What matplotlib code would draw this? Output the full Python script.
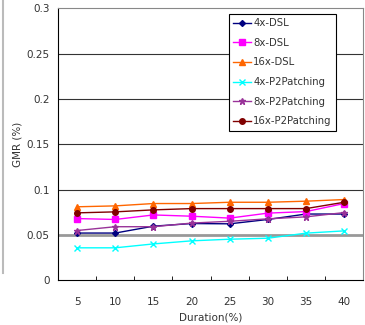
import matplotlib
matplotlib.use('Agg')
import matplotlib.pyplot as plt
from matplotlib.lines import Line2D

durations = ['5', '10', '15', '20', '25', '30', '35', '40']

dsl_4x = [0.052, 0.052, 0.0596, 0.0625, 0.0622, 0.067, 0.073, 0.073]
dsl_8x = [0.068, 0.067, 0.072, 0.0706, 0.0685, 0.074, 0.0757, 0.0846]
dsl_16x = [0.081, 0.082, 0.0846, 0.0846, 0.086, 0.086, 0.0872, 0.089]
p2p_4x = [0.0357, 0.0357, 0.040, 0.0434, 0.0452, 0.0463, 0.0519, 0.0544]
p2p_8x = [0.0548, 0.059, 0.059, 0.063, 0.065, 0.0677, 0.0699, 0.0746]
p2p_16x = [0.0743, 0.0754, 0.0776, 0.079, 0.079, 0.079, 0.079, 0.086]

series = [
    ('4x-DSL', dsl_4x, '#000080', 'D', 3),
    ('8x-DSL', dsl_8x, '#FF00FF', 's', 4),
    ('16x-DSL', dsl_16x, '#FF6600', '^', 4.5),
    ('4x-P2Patching', p2p_4x, '#00FFFF', 'x', 4),
    ('8x-P2Patching', p2p_8x, '#993399', '*', 5),
    ('16x-P2Patching', p2p_16x, '#800000', 'o', 4),
]

plt.rcParams['font.family'] = 'DejaVu Sans'
fig = plt.figure(figsize=(3.65, 3.25), dpi=100)
ax = fig.add_axes([0.159, 0.138, 0.836, 0.836])

x = list(range(len(durations)))
for label, vals, color, marker, ms in series:
    ax.plot(x, vals, color=color, marker=marker, markersize=ms, linewidth=1,
            markeredgewidth=1, label=label)

# horizontal gridlines like the original spreadsheet chart
for yv in [0.1, 0.15, 0.2, 0.25]:
    ax.axhline(yv, color='#333333', linewidth=0.8, zorder=0)
ax.axhline(0.05, color='#999999', linewidth=2, zorder=0)

ax.set_xlim(-0.5, len(durations) - 0.5)
ax.set_ylim(0, 0.3)
ax.set_yticks([0, 0.05, 0.1, 0.15, 0.2, 0.25, 0.3])
ax.set_yticklabels(['0', '0.05', '0.1', '0.15', '0.2', '0.25', '0.3'])
ax.set_xticks(x)
ax.set_xticklabels(durations)
ax.set_xticks([i + 0.5 for i in x], minor=True)
ax.tick_params(axis='x', which='major', length=0, pad=12, labelsize=7.5, colors='#333333')
ax.tick_params(axis='x', which='minor', length=3, direction='in', color='black')
ax.tick_params(axis='y', length=0, pad=6, labelsize=7.5, colors='#333333')

ax.spines['left'].set_color('black')
ax.spines['bottom'].set_color('black')
ax.spines['top'].set_color('#888888')
ax.spines['right'].set_color('#888888')

ax.set_xlabel('Duration(%)', fontsize=7.5, color='#333333', labelpad=4)
ax.set_ylabel('GMR (%)', fontsize=7.5, color='#333333', labelpad=3)

leg = fig.legend(loc='upper left', bbox_to_anchor=(0.627, 0.958), fontsize=7.3,
                 frameon=True, fancybox=False, framealpha=1, edgecolor='black',
                 handlelength=1.7, handletextpad=0.25, labelspacing=0.95,
                 borderpad=0.45, borderaxespad=0)
leg.get_frame().set_linewidth(0.8)
for t in leg.get_texts():
    t.set_color('#333333')

# grey edge of the neighbouring panel at the far left
fig.add_artist(Line2D([0.008, 0.008], [1.0, 0.16], color='#bbbbbb', linewidth=1.5,
                      transform=fig.transFigure))

fig.savefig('out.png', dpi=100, facecolor='white')
